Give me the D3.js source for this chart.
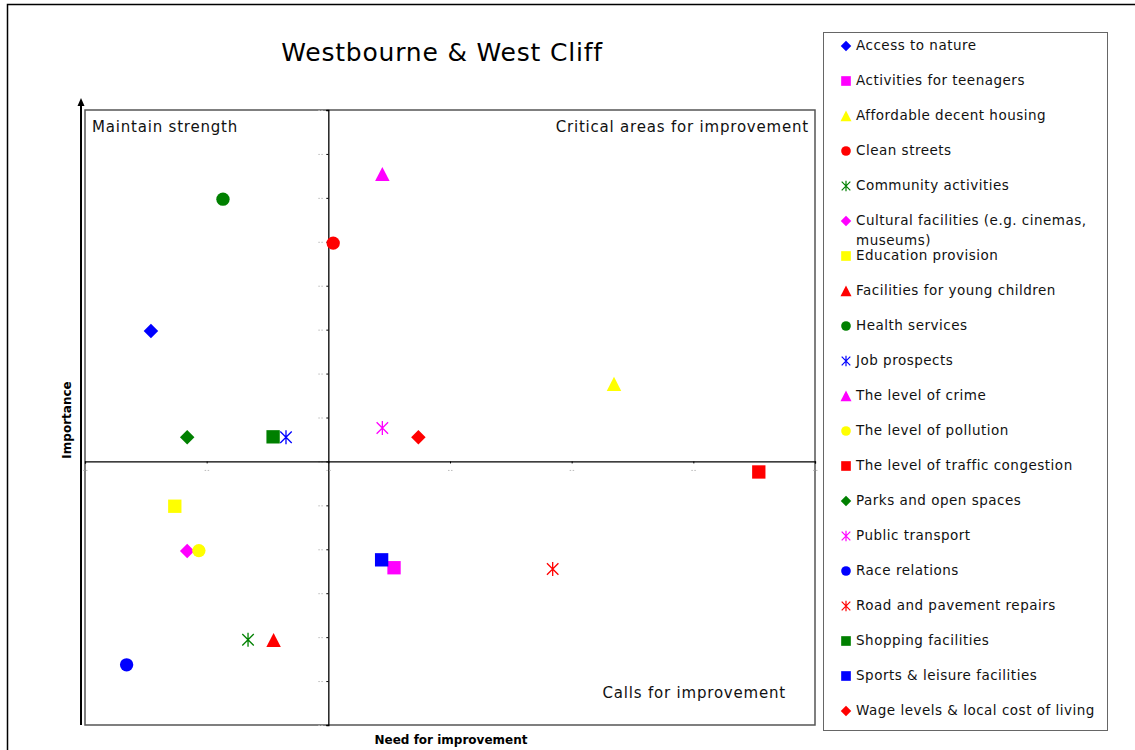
<!DOCTYPE html>
<html>
<head>
<meta charset="utf-8">
<script src="https://cdn.jsdelivr.net/npm/d3@7"></script>
<style>
  html, body { margin: 0; padding: 0; background: #fff; }
  svg { display: block; font-family: "DejaVu Sans", Verdana, sans-serif; }
</style>
</head>
<body>
<svg id="chart" width="1135" height="750"></svg>
<script>
// ---- data ----
const categories = [
  "Access to nature",
  "Activities for teenagers",
  "Affordable decent housing",
  "Clean streets",
  "Community activities",
  "Cultural facilities (e.g. cinemas, museums)",
  "Education provision",
  "Facilities for young children",
  "Health services",
  "Job prospects",
  "The level of crime",
  "The level of pollution",
  "The level of traffic congestion",
  "Parks and open spaces",
  "Public transport",
  "Race relations",
  "Road and pavement repairs",
  "Shopping facilities",
  "Sports & leisure facilities",
  "Wage levels & local cost of living"
];
const needForImprovement = [
  -0.729, 0.270, 1.174, 0.020, -0.330, -0.580, -0.631, -0.225, -0.433, -0.174,
  0.222, -0.532, 1.769, -0.580, 0.222, -0.829, 0.922, -0.227, 0.219, 0.370
];
const importance = [
  0.297, -0.242, 0.176, 0.497, -0.406, -0.204, -0.102, -0.407, 0.597, 0.055,
  0.654, -0.203, -0.024, 0.055, 0.076, -0.463, -0.245, 0.056, -0.224, 0.055
];
const markerShapes = [
  "diamond", "square", "triangle", "circle", "asterisk", "diamond", "square", "triangle", "circle", "asterisk",
  "triangle", "circle", "square", "diamond", "asterisk", "circle", "asterisk", "square", "square", "diamond"
];
const markerColors = [
  "#0000FF", "#FF00FF", "#FFFF00", "#FF0000", "#008000", "#FF00FF", "#FFFF00", "#FF0000", "#008000", "#0000FF",
  "#FF00FF", "#FFFF00", "#FF0000", "#008000", "#FF00FF", "#0000FF", "#FF0000", "#008000", "#0000FF", "#FF0000"
];
const xTicks = [-1, -0.5, 0, 0.5, 1, 1.5, 2];
const yTicks = [-0.6, -0.5, -0.4, -0.3, -0.2, -0.1, 0, 0.1, 0.2, 0.3, 0.4, 0.5, 0.6, 0.7, 0.8];
const quadrantLabels = ["Maintain strength", "Critical areas for improvement", "Calls for improvement"];
const titleText = "Westbourne & West Cliff";
const xTitle = "Need for improvement";
const yTitle = "Importance";

// ---- layout ----
const svg = d3.select("#chart");
const plot = { left: 85, right: 815, top: 110, bottom: 725 };
const x = d3.scaleLinear().domain([-1, 2]).range([plot.left, plot.right]);
const y = d3.scaleLinear().domain([-0.6, 0.8]).range([plot.bottom, plot.top]);

function shapePath(shape, s) {
  const h = s / 2;
  switch (shape) {
    case "diamond": return `M0,${-h}L${h},0L0,${h}L${-h},0Z`;
    case "square": { const q = h * 0.92; return `M${-q},${-q}H${q}V${q}H${-q}Z`; }
    case "triangle": return `M0,${-h}L${h},${h * 0.95}L${-h},${h * 0.95}Z`;
    case "circle": { const r = h * 0.92; return `M${r},0A${r},${r} 0 1,1 ${-r},0A${r},${r} 0 1,1 ${r},0Z`; }
    case "asterisk": { const a = h * 0.82; return `M0,${-h}V${h}M${-a},${-a}L${a},${a}M${-a},${a}L${a},${-a}`; }
  }
}

// outer chart border (only top/left visible in the frame)
svg.append("rect").attr("x", 7.5).attr("y", 4.5).attr("width", 1200).attr("height", 800)
  .attr("fill", "none").attr("stroke", "#000").attr("stroke-width", 1.5);

// title
svg.append("text").attr("x", 442).attr("y", 61).attr("text-anchor", "middle")
  .attr("font-size", 25).attr("letter-spacing", 0.8).attr("fill", "#000").text(titleText);

// plot frame
svg.append("rect").attr("x", plot.left).attr("y", plot.top)
  .attr("width", plot.right - plot.left).attr("height", plot.bottom - plot.top)
  .attr("fill", "#fff").attr("stroke", "#555").attr("stroke-width", 1.5);

// y axis arrow on the left
svg.append("line").attr("x1", 81).attr("x2", 81).attr("y1", plot.bottom).attr("y2", 103)
  .attr("stroke", "#000").attr("stroke-width", 2);
svg.append("path").attr("d", "M81,98L77.5,106L84.5,106Z").attr("fill", "#000");

// central axes (cross at 0,0)
const yAxis = d3.axisLeft(y).tickValues(yTicks).tickSize(2).tickFormat("");
const yg = svg.append("g").attr("transform", `translate(${x(0)},0)`).call(yAxis);
yg.select(".domain").attr("stroke", "#000").attr("stroke-width", 1.3);
yg.selectAll(".tick line").attr("stroke", "#000");
yg.selectAll(".tick").append("line").attr("x1", -10).attr("x2", -5).attr("y1", 0).attr("y2", 0)
  .attr("stroke", "#bbb").attr("stroke-width", 1).attr("stroke-dasharray", "1.5,1.5");

const xAxis = d3.axisBottom(x).tickValues(xTicks).tickSize(2).tickFormat("");
const xg = svg.append("g").attr("transform", `translate(0,${y(0)})`).call(xAxis);
xg.select(".domain").attr("stroke", "#000").attr("stroke-width", 1.3);
xg.selectAll(".tick line").attr("stroke", "#000");
xg.selectAll(".tick").append("line").attr("x1", -2.5).attr("x2", 2.5).attr("y1", 9).attr("y2", 9)
  .attr("stroke", "#bbb").attr("stroke-width", 1).attr("stroke-dasharray", "1.5,1.5");

// quadrant labels
const qStyle = sel => sel.attr("font-size", 15).attr("letter-spacing", 0.8).attr("fill", "#111");
svg.append("text").attr("x", 92).attr("y", 132).call(qStyle).text(quadrantLabels[0]);
svg.append("text").attr("x", 809).attr("y", 132).attr("text-anchor", "end").call(qStyle).text(quadrantLabels[1]);
svg.append("text").attr("x", 786).attr("y", 698).attr("text-anchor", "end").call(qStyle).text(quadrantLabels[2]);

// axis titles
svg.append("text").attr("x", 451).attr("y", 744).attr("text-anchor", "middle")
  .attr("font-size", 12).attr("font-weight", "bold").attr("fill", "#000").text(xTitle);
svg.append("text").attr("transform", "translate(71,420) rotate(-90)").attr("text-anchor", "middle")
  .attr("font-size", 12).attr("font-weight", "bold").attr("fill", "#000").text(yTitle);

// points
const data = categories.map((c, i) => ({
  name: c, nx: needForImprovement[i], iy: importance[i], shape: markerShapes[i], color: markerColors[i]
}));
svg.append("g").selectAll("path").data(data).join("path")
  .attr("transform", d => `translate(${x(d.nx)},${y(d.iy)})`)
  .attr("d", d => shapePath(d.shape, d.shape === "asterisk" ? 14 : 14.5))
  .attr("fill", d => d.shape === "asterisk" ? "none" : d.color)
  .attr("stroke", d => d.shape === "asterisk" ? d.color : "none")
  .attr("stroke-width", 1.3);

// legend
const lg = svg.append("g");
lg.append("rect").attr("x", 823.5).attr("y", 32.5).attr("width", 284).attr("height", 698)
  .attr("fill", "#fff").attr("stroke", "#666").attr("stroke-width", 1);
const rows = lg.selectAll("g.row").data(data).join("g").attr("class", "row")
  .attr("transform", (d, i) => `translate(0,${45 + i * 35})`);
rows.append("path")
  .attr("transform", "translate(846,1)")
  .attr("d", d => shapePath(d.shape, d.shape === "triangle" ? 11 : 10.5))
  .attr("fill", d => d.shape === "asterisk" ? "none" : d.color)
  .attr("stroke", d => d.shape === "asterisk" ? d.color : "none")
  .attr("stroke-width", 1.2);
rows.each(function(d) {
  const t = d3.select(this).append("text").attr("x", 856).attr("y", 5)
    .attr("font-size", 13.5).attr("letter-spacing", 0.5).attr("fill", "#111");
  if (d.name.startsWith("Cultural")) {
    t.append("tspan").attr("x", 856).attr("dy", 0).text("Cultural facilities (e.g. cinemas,");
    t.append("tspan").attr("x", 856).attr("dy", 20).text("museums)");
  } else {
    t.text(d.name);
  }
});
</script>
</body>
</html>
